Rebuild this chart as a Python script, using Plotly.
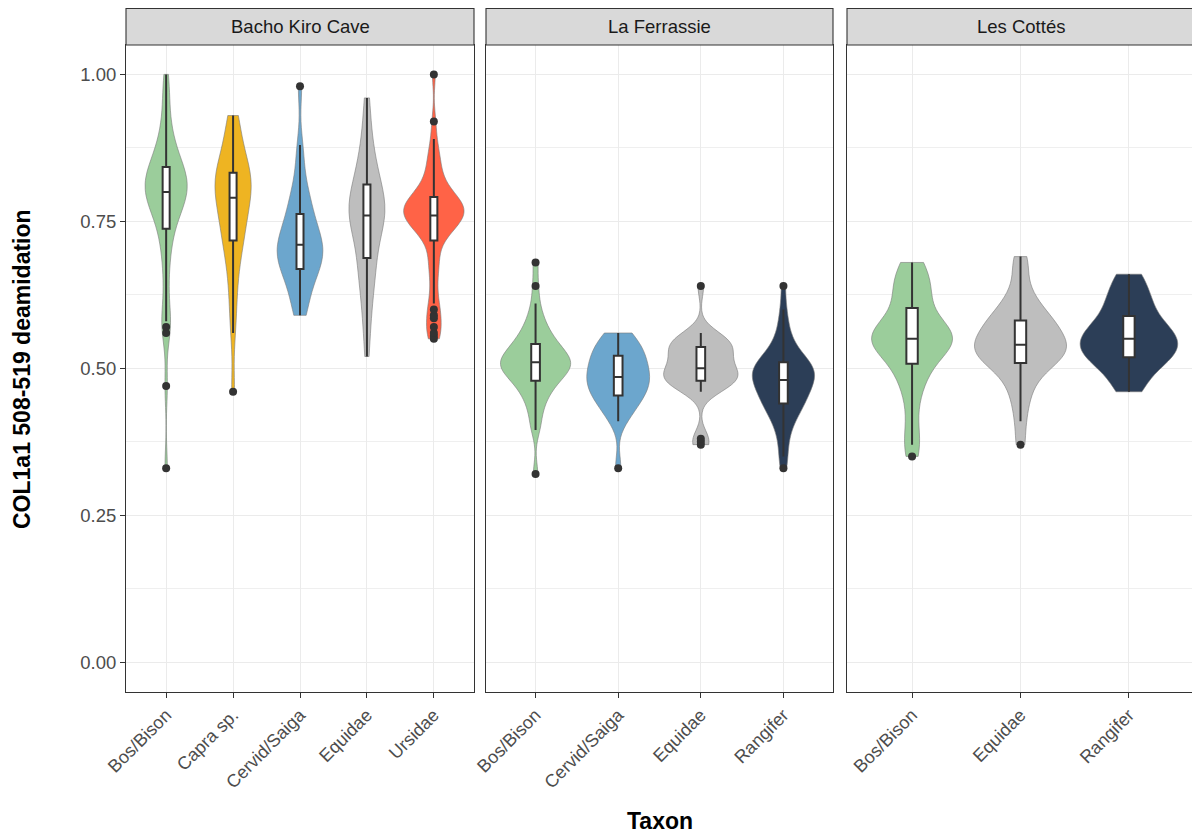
import numpy as np
import plotly.graph_objects as go

# ---- data: COL1a1 508-519 deamidation per taxon and site ----
sites = ["Bacho Kiro Cave", "La Ferrassie", "Les Cottés"]

bk_taxa = ["Bos/Bison", "Capra sp.", "Cervid/Saiga", "Equidae", "Ursidae"]
lf_taxa = ["Bos/Bison", "Cervid/Saiga", "Equidae", "Rangifer"]
lc_taxa = ["Bos/Bison", "Equidae", "Rangifer"]

bk_bos_bison = [0.33, 0.47, 0.56, 0.57, 0.58, 0.60, 0.64, 0.67, 0.70, 0.71, 0.73,
                0.74, 0.75, 0.76, 0.77, 0.77, 0.78, 0.78, 0.79, 0.79, 0.79, 0.80,
                0.80, 0.80, 0.81, 0.81, 0.82, 0.82, 0.82, 0.83, 0.83, 0.83, 0.84,
                0.84, 0.85, 0.85, 0.86, 0.87, 0.88, 0.89, 0.90, 0.92, 0.95, 0.97, 1.00]
bk_capra = [0.46, 0.56, 0.60, 0.63, 0.66, 0.68, 0.70, 0.71, 0.72, 0.73, 0.74,
            0.75, 0.76, 0.77, 0.78, 0.78, 0.79, 0.80, 0.80, 0.81, 0.82, 0.82,
            0.83, 0.83, 0.83, 0.84, 0.85, 0.86, 0.87, 0.89, 0.90, 0.92, 0.93]
bk_cervid_saiga = [0.59, 0.60, 0.61, 0.63, 0.64, 0.65, 0.66, 0.665, 0.67, 0.675, 0.68,
                   0.69, 0.69, 0.70, 0.70, 0.70, 0.71, 0.71, 0.72, 0.72, 0.73, 0.74,
                   0.74, 0.75, 0.76, 0.77, 0.78, 0.79, 0.80, 0.82, 0.85, 0.88, 0.98]
bk_equidae = [0.52, 0.56, 0.59, 0.61, 0.63, 0.65, 0.66, 0.67, 0.68, 0.69, 0.70,
              0.72, 0.73, 0.74, 0.745, 0.75, 0.755, 0.76, 0.76, 0.765, 0.77, 0.775,
              0.78, 0.785, 0.79, 0.80, 0.80, 0.81, 0.82, 0.83, 0.84, 0.85, 0.86,
              0.88, 0.90, 0.93, 0.96]
bk_ursidae = [0.55, 0.555, 0.56, 0.57, 0.585, 0.59, 0.60, 0.61, 0.63, 0.65, 0.67,
              0.68, 0.69, 0.71, 0.72, 0.725, 0.73, 0.735, 0.74, 0.74, 0.745, 0.75,
              0.75, 0.75, 0.755, 0.755, 0.76, 0.76, 0.76, 0.765, 0.765, 0.77, 0.77,
              0.77, 0.775, 0.775, 0.78, 0.78, 0.78, 0.785, 0.785, 0.79, 0.79, 0.795,
              0.80, 0.80, 0.81, 0.815, 0.82, 0.83, 0.84, 0.85, 0.86, 0.87, 0.89,
              0.92, 1.00]

lf_bos_bison = [0.32, 0.395, 0.41, 0.43, 0.44, 0.45, 0.46, 0.465, 0.47, 0.475, 0.48,
                0.485, 0.49, 0.49, 0.495, 0.50, 0.50, 0.50, 0.505, 0.505, 0.51, 0.51,
                0.515, 0.515, 0.52, 0.52, 0.525, 0.53, 0.53, 0.535, 0.54, 0.545, 0.55,
                0.555, 0.56, 0.57, 0.58, 0.59, 0.61, 0.64, 0.68]
lf_cervid_saiga = [0.33, 0.41, 0.42, 0.43, 0.44, 0.445, 0.45, 0.455, 0.46, 0.465, 0.47,
                   0.475, 0.48, 0.48, 0.485, 0.49, 0.495, 0.50, 0.505, 0.51, 0.515, 0.52,
                   0.525, 0.53, 0.535, 0.54, 0.55, 0.555, 0.56]
lf_equidae = [0.37, 0.375, 0.38, 0.46, 0.465, 0.47, 0.47, 0.475, 0.48, 0.48, 0.485,
              0.485, 0.49, 0.49, 0.495, 0.495, 0.50, 0.505, 0.51, 0.515, 0.52, 0.525,
              0.53, 0.53, 0.535, 0.54, 0.54, 0.545, 0.55, 0.55, 0.555, 0.56, 0.64]
lf_rangifer = [0.33, 0.35, 0.37, 0.39, 0.40, 0.41, 0.42, 0.425, 0.43, 0.435, 0.44,
               0.44, 0.445, 0.45, 0.455, 0.46, 0.46, 0.465, 0.47, 0.47, 0.475, 0.48,
               0.48, 0.485, 0.485, 0.49, 0.49, 0.495, 0.495, 0.50, 0.50, 0.505, 0.505,
               0.51, 0.51, 0.515, 0.52, 0.525, 0.53, 0.54, 0.55, 0.56, 0.58, 0.60, 0.64]

lc_bos_bison = [0.35, 0.37, 0.39, 0.43, 0.46, 0.48, 0.49, 0.50, 0.51, 0.525, 0.535,
                0.54, 0.54, 0.545, 0.545, 0.55, 0.55, 0.555, 0.555, 0.56, 0.56, 0.565,
                0.57, 0.58, 0.60, 0.61, 0.62, 0.63, 0.64, 0.65, 0.66, 0.67, 0.68]
lc_equidae = [0.37, 0.41, 0.44, 0.46, 0.475, 0.49, 0.50, 0.505, 0.51, 0.515, 0.52,
              0.525, 0.53, 0.53, 0.535, 0.535, 0.54, 0.545, 0.55, 0.555, 0.56, 0.565,
              0.57, 0.575, 0.58, 0.585, 0.59, 0.60, 0.61, 0.62, 0.64, 0.67, 0.69]
lc_rangifer = [0.46, 0.47, 0.49, 0.50, 0.51, 0.515, 0.52, 0.525, 0.53, 0.535, 0.54,
               0.545, 0.55, 0.555, 0.56, 0.565, 0.57, 0.58, 0.585, 0.60, 0.61, 0.62,
               0.63, 0.65, 0.66]

y_tick_vals = [0.0, 0.25, 0.5, 0.75, 1.0]
y_tick_text = ["0.00", "0.25", "0.50", "0.75", "1.00"]

panels = [
    (sites[0], bk_taxa, [bk_bos_bison, bk_capra, bk_cervid_saiga, bk_equidae, bk_ursidae]),
    (sites[1], lf_taxa, [lf_bos_bison, lf_cervid_saiga, lf_equidae, lf_rangifer]),
    (sites[2], lc_taxa, [lc_bos_bison, lc_equidae, lc_rangifer]),
]

# ---- styling ----
taxon_colors = {
    "Bos/Bison": "#9BCD9B",
    "Capra sp.": "#EEB422",
    "Cervid/Saiga": "#6CA6CD",
    "Equidae": "#BEBEBE",
    "Ursidae": "#FF6347",
    "Rangifer": "#2C3E57",
}
FONT = "Liberation Sans, Arial, sans-serif"
W, H = 1192, 839
panel_px = [(126, 474), (486, 833), (847, 1194)]
top_px, bottom_px = 45, 691.5
strip_top_px = 8.5
y_range = [-0.05, 1.05]
VIOLIN_MAX_WIDTH = 0.9


def nrd0(v):
    """Silverman's rule of thumb as used by R's bw.nrd0."""
    v = np.asarray(v, dtype=float)
    sd = v.std(ddof=1)
    q75, q25 = np.percentile(v, [75, 25])
    lo = min(sd, (q75 - q25) / 1.34)
    return 0.9 * lo * len(v) ** -0.2


def kde_peak(v, bw):
    """Maximum of the gaussian density estimate over the data range."""
    v = np.asarray(v, dtype=float)
    grid = np.linspace(v.min(), v.max(), 512)
    z = (grid[:, None] - v[None, :]) / bw
    dens = np.exp(-0.5 * z ** 2).sum(axis=1) / (len(v) * bw * np.sqrt(2 * np.pi))
    return dens.max()


fig = go.Figure()
y_dom = [1 - bottom_px / H, 1 - top_px / H]

violins, boxes = [], []
for i, (site, taxa, groups) in enumerate(panels):
    xa = "x" if i == 0 else f"x{i + 1}"
    ya = "y" if i == 0 else f"y{i + 1}"
    bws = [nrd0(v) for v in groups]
    peaks = [kde_peak(v, b) for v, b in zip(groups, bws)]
    top = max(peaks)
    for taxon, vals, bw, pk in zip(taxa, groups, bws, peaks):
        xs = [taxon] * len(vals)
        # equal-area scaling within a facet: widest violin spans 0.9 of a slot
        violins.append(go.Violin(
            x=xs, y=vals, xaxis=xa, yaxis=ya,
            width=VIOLIN_MAX_WIDTH * pk / top,
            scalegroup=f"{site}|{taxon}", scalemode="width", spanmode="hard",
            bandwidth=bw, fillcolor=taxon_colors[taxon], opacity=1,
            line=dict(color="#7A7A7A", width=0.6),
            points=False, box_visible=False, meanline_visible=False,
            showlegend=False, hoverinfo="skip",
        ))
        boxes.append(go.Box(
            x=xs, y=vals, xaxis=xa, yaxis=ya,
            width=0.105, fillcolor="white", line=dict(color="#333333", width=2),
            whiskerwidth=0, boxpoints="outliers", pointpos=0, jitter=0,
            quartilemethod="linear",
            marker=dict(color="#333333", size=8, line=dict(width=0)),
            showlegend=False, hoverinfo="skip",
        ))

for t in violins + boxes:
    fig.add_trace(t)

layout = dict(
    width=W, height=H,
    margin=dict(l=0, r=0, t=0, b=0, autoexpand=False),
    paper_bgcolor="white", plot_bgcolor="white",
    template="none", showlegend=False,
    violinmode="overlay", boxmode="overlay",
    font=dict(family=FONT, color="#4D4D4D"),
)

shapes, annotations = [], []
for i, (site, taxa, groups) in enumerate(panels):
    x0, x1 = panel_px[i]
    dom = [x0 / W, min(x1 / W, 1.0)]
    n = len(taxa)
    unit = (x1 - x0) / (n + 0.2)
    right = -0.6 + (dom[1] * W - x0) / unit
    key = "" if i == 0 else str(i + 1)
    layout["xaxis" + key] = dict(
        domain=dom, anchor="y" + key, type="category",
        categoryorder="array", categoryarray=taxa, range=[-0.6, right],
        showline=True, linecolor="#333333", linewidth=1.1, mirror=True,
        showgrid=True, gridcolor="#EBEBEB", gridwidth=1.1, zeroline=False,
        ticks="outside", ticklen=5, tickwidth=1.1, tickcolor="#333333",
        tickangle=-45, tickfont=dict(family=FONT, size=18, color="#4D4D4D"),
        automargin=False,
    )
    ycfg = dict(
        domain=y_dom, anchor="x" + key, range=y_range,
        showline=True, linecolor="#333333", linewidth=1.1,
        mirror=(i < 2),
        showgrid=True, gridcolor="#EBEBEB", gridwidth=1.1, zeroline=False,
        tickmode="array", tickvals=y_tick_vals, ticktext=y_tick_text,
        minor=dict(tickmode="array", tickvals=[0.125, 0.375, 0.625, 0.875],
                   showgrid=True, gridcolor="#EFEFEF", gridwidth=0.6, ticks=""),
        automargin=False,
    )
    if i == 0:
        ycfg.update(ticks="outside", ticklen=5, tickwidth=1.1, tickcolor="#333333",
                    tickfont=dict(family=FONT, size=18.5, color="#4D4D4D"))
    else:
        ycfg.update(matches="y", showticklabels=False, ticks="")
    layout["yaxis" + key] = ycfg

    # facet strip
    shapes.append(dict(
        type="rect", xref="paper", yref="paper",
        x0=x0 / W, x1=x1 / W, y0=1 - top_px / H, y1=1 - strip_top_px / H,
        fillcolor="#D9D9D9", line=dict(color="#333333", width=1.1), layer="above",
    ))
    annotations.append(dict(
        text=site, xref="paper", yref="paper",
        x=(x0 + x1) / 2 / W,
        y=1 - (strip_top_px + top_px) / 2 / H,
        showarrow=False, xanchor="center", yanchor="middle",
        font=dict(family=FONT, size=18.5, color="#1A1A1A"),
    ))

annotations.append(dict(
    text="COL1a1 508-519 deamidation", xref="paper", yref="paper",
    x=22 / W, y=1 - 369 / H, textangle=-90, showarrow=False,
    xanchor="center", yanchor="middle",
    font=dict(family=FONT, size=23, color="#000000", weight="bold"),
))
annotations.append(dict(
    text="Taxon", xref="paper", yref="paper",
    x=660 / W, y=1 - 821 / H, showarrow=False,
    xanchor="center", yanchor="middle",
    font=dict(family=FONT, size=23, color="#000000", weight="bold"),
))

layout["shapes"] = shapes
layout["annotations"] = annotations
fig.update_layout(**layout)

fig.write_html("out.html")
